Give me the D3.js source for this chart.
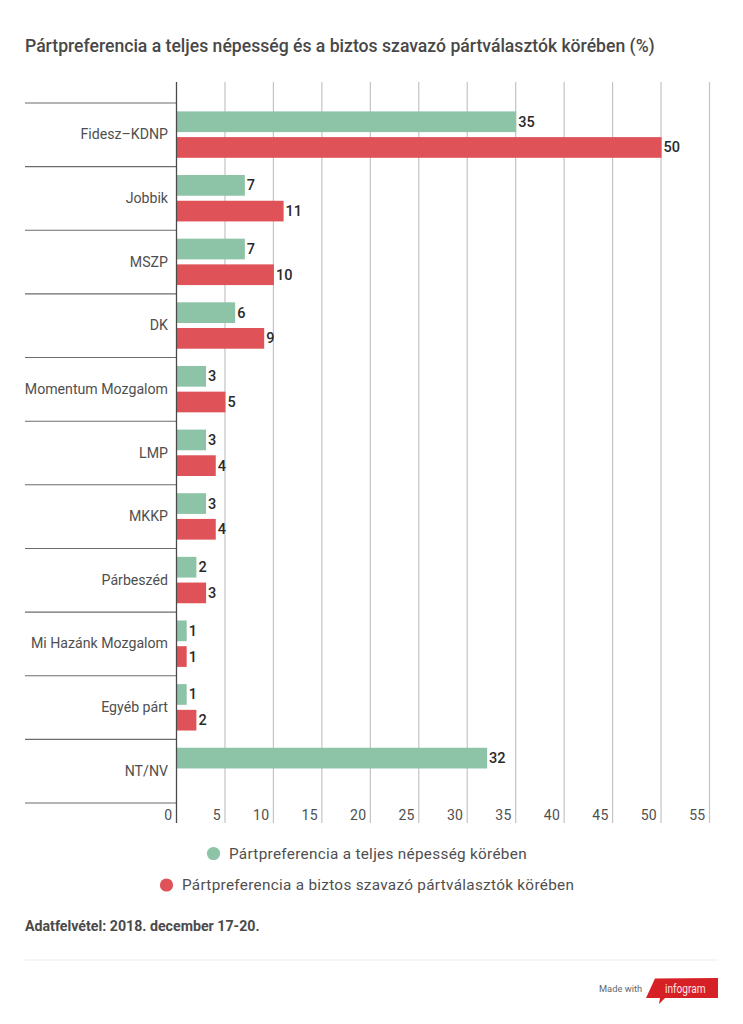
<!DOCTYPE html>
<html><head><meta charset="utf-8">
<script src="https://cdn.jsdelivr.net/npm/d3@7"></script>
<style>html,body{margin:0;padding:0;background:#fff}svg{display:block}text{font-family:Roboto,sans-serif}</style>
</head><body><div id="c"></div>
<script>
const title = "Pártpreferencia a teljes népesség és a biztos szavazó pártválasztók körében (%)";
const categories = ["Fidesz–KDNP","Jobbik","MSZP","DK","Momentum Mozgalom","LMP","MKKP","Párbeszéd","Mi Hazánk Mozgalom","Egyéb párt","NT/NV"];
const seriesNames = ["Pártpreferencia a teljes népesség körében","Pártpreferencia a biztos szavazó pártválasztók körében"];
const population = [35,7,7,6,3,3,3,2,1,1,32];
const voters = [50,11,10,9,5,4,4,3,1,2,null];
const ticks = [0,5,10,15,20,25,30,35,40,45,50,55];
const colors = ["#8dc3a7","#df5258"];
const note = "Adatfelvétel: 2018. december 17-20.";

const W=743,H=1024;
const svg=d3.select("#c").append("svg").attr("width",W).attr("height",H);
svg.append("text").attr("x",25).attr("y",52).attr("font-size",17.6).attr("font-weight",500).attr("fill","#484848").text(title);

const x=d3.scaleLinear().domain([0,55]).range([176.5,709.5]);
const y=d3.scaleBand().domain(categories).range([103,803]);
const y1=d3.scaleBand().domain([0,1]).range([8.4,54.8]).paddingInner(0.195);

// gridlines
svg.append("g").selectAll("line").data(ticks.slice(1)).join("line")
 .attr("x1",d=>x(d)).attr("x2",d=>x(d)).attr("y1",82).attr("y2",823)
 .attr("stroke","#c4c4c4").attr("stroke-width",1.2);

// category separators
const seps=categories.map(c=>y(c)).concat([y.range()[1]]);
svg.append("g").selectAll("line").data(seps).join("line")
 .attr("x1",25).attr("x2",x(0)).attr("y1",d=>d).attr("y2",d=>d)
 .attr("stroke","#6b6b6b").attr("stroke-width",1.1);

// bars
[population,voters].forEach((vals,s)=>{
  const g=svg.append("g");
  const data=vals.map((v,i)=>({v,c:categories[i]})).filter(d=>d.v!==null);
  g.selectAll("rect").data(data).join("rect")
   .attr("x",x(0)).attr("y",d=>y(d.c)+y1(s))
   .attr("width",d=>x(d.v)-x(0)+0.5).attr("height",y1.bandwidth())
   .attr("fill",colors[s]);
  g.selectAll("text").data(data).join("text")
   .attr("x",d=>x(d.v)+2.5).attr("y",d=>y(d.c)+y1(s)+y1.bandwidth()/2+5)
   .attr("font-size",14.5).attr("font-weight",500).attr("fill","#2a2a2a").text(d=>d.v);
});

// axis line
svg.append("line").attr("x1",x(0)).attr("x2",x(0)).attr("y1",82).attr("y2",823)
 .attr("stroke","#4a4a4a").attr("stroke-width",1.3);

// category labels
svg.append("g").selectAll("text").data(categories).join("text")
 .attr("x",168).attr("y",d=>y(d)+y.bandwidth()/2+4.5).attr("text-anchor","end")
 .attr("font-size",14.15).attr("fill","#4f4f4f").text(d=>d);

// tick labels
svg.append("g").selectAll("text").data(ticks).join("text")
 .attr("x",d=>x(d)-4).attr("y",820).attr("text-anchor","end")
 .attr("font-size",14).attr("letter-spacing",0.3).attr("fill","#4f4f4f").text(d=>d);

// legend
const legend=[{x:213.5,y:853.5,tx:229,ty:858.5},{x:166.5,y:885,tx:182,ty:890}];
legend.forEach((l,i)=>{
  svg.append("circle").attr("cx",l.x).attr("cy",l.y).attr("r",6.6).attr("fill",colors[i]);
  svg.append("text").attr("x",l.tx).attr("y",l.ty).attr("font-size",15.3).attr("letter-spacing",0.3).attr("fill","#4f4f4f").text(seriesNames[i]);
});

svg.append("text").attr("x",25).attr("y",931).attr("font-size",14.2).attr("font-weight",700).attr("fill","#4a4a4a").text(note);

// footer
svg.append("line").attr("x1",25).attr("x2",718).attr("y1",960).attr("y2",960).attr("stroke","#ececec").attr("stroke-width",1.2);
svg.append("text").attr("x",599).attr("y",992).attr("font-size",9.3).attr("fill","#666").text("Made with");
svg.append("path").attr("d",d3.line()([[655,978.5],[718,978],[718,998],[665,998],[659,1004],[660,998],[646,998]])).attr("fill","#d71f26");
svg.append("text").attr("x",665).attr("y",993).attr("font-size",12.5).attr("textLength",40.5).attr("lengthAdjust","spacingAndGlyphs").attr("fill","#fbe4e4").text("infogram");
</script></body></html>
